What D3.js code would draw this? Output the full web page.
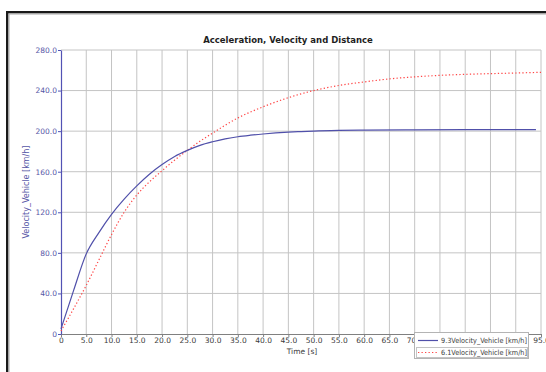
<!DOCTYPE html>
<html>
<head>
<meta charset="utf-8">
<script src="https://cdn.jsdelivr.net/npm/d3@7"></script>
<style>
  body { margin: 0; background: #fff; }
  svg { display: block; font-family: "DejaVu Sans", Verdana, sans-serif; }
</style>
</head>
<body>
<svg width="546" height="372"></svg>
<script>
const title = 'Acceleration, Velocity and Distance';
const yLabel = 'Velocity_Vehicle [km/h]';
const xLabel = 'Time [s]';
const seriesNames = ['9.3Velocity_Vehicle [km/h]', '6.1Velocity_Vehicle [km/h]'];

const xTicks = d3.range(0, 96, 5);
const yTicks = d3.range(0, 281, 40);

// 9.3 run (solid blue)
const blueTime = [0, 2.5, 5, 7.5, 10, 12.5, 15, 17.5, 20, 22.5, 25, 27.5, 30, 32.5, 35, 37.5, 40, 42.5, 45, 47.5, 50, 55, 60, 70, 80, 94];
const blueVel = [5, 43, 79, 100, 118, 133, 146, 157.5, 167, 175, 181, 186, 189.5, 192.3, 194.5, 196, 197.2, 198.2, 199, 199.6, 200.1, 200.7, 201, 201.3, 201.5, 201.5];

// 6.1 run (dotted red)
const redTime = [0, 2.5, 5, 7.5, 10, 12.5, 15, 17.5, 20, 22.5, 25, 27.5, 30, 35, 40, 45, 50, 55, 60, 65, 70, 75, 80, 85, 90, 95];
const redVel = [3, 25, 48, 73, 98, 120, 137, 150, 161, 171.5, 181, 190, 198, 213, 224, 233, 240, 245, 248.5, 251.5, 253.5, 255, 256, 256.7, 257.3, 258];

const svg = d3.select('svg');

const x = d3.scaleLinear().domain([0, 95]).range([61, 541]);
const y = d3.scaleLinear().domain([0, 280]).range([334, 50]);

// legend box area (tick labels underneath it are hidden, as in the source)
const legendBox = { x: 414.5, y: 332.5, w: 114, h: 26 };

// frame
svg.append('rect')
  .attr('x', 7.2).attr('y', 12.2)
  .attr('width', 560).attr('height', 400)
  .attr('fill', 'none').attr('stroke', '#1a1a1a').attr('stroke-width', 2.4);
svg.append('rect')
  .attr('x', 9).attr('y', 14)
  .attr('width', 560).attr('height', 400)
  .attr('fill', 'none').attr('stroke', '#a8a8a8').attr('stroke-width', 1);

// grid
svg.append('g')
  .selectAll('line')
  .data(xTicks.filter(d => d > 0))
  .join('line')
    .attr('x1', d => x(d)).attr('x2', d => x(d))
    .attr('y1', y(280)).attr('y2', y(0))
    .attr('stroke', '#c4c4c4').attr('stroke-width', 1);
svg.append('g')
  .selectAll('line')
  .data(yTicks.filter(d => d > 0))
  .join('line')
    .attr('x1', x(0)).attr('x2', x(95))
    .attr('y1', d => y(d)).attr('y2', d => y(d))
    .attr('stroke', '#c4c4c4').attr('stroke-width', 1);

// axes
const fmt = d => d === 0 ? '0' : d.toFixed(1);

const xAxis = svg.append('g')
  .attr('transform', `translate(0,${y(0)})`)
  .call(d3.axisBottom(x).tickValues(xTicks).tickFormat(fmt).tickSizeInner(3).tickSizeOuter(0).tickPadding(1));
xAxis.select('.domain').attr('stroke', '#808080');
xAxis.selectAll('.tick line').attr('stroke', '#808080');
xAxis.selectAll('.tick text')
  .attr('fill', '#3a3a3a')
  .style('font-size', '7.5px')
  .style('font-family', '"DejaVu Sans", sans-serif');
// labels fully covered by the legend are not drawn
xAxis.selectAll('.tick')
  .filter(d => x(d) - 8 > legendBox.x && x(d) + 8 < legendBox.x + legendBox.w)
  .select('text').remove();

const yAxis = svg.append('g')
  .attr('transform', `translate(${x(0)},0)`)
  .call(d3.axisLeft(y).tickValues(yTicks).tickFormat(fmt).tickSizeInner(3).tickSizeOuter(0).tickPadding(1));
yAxis.select('.domain').attr('stroke', '#5252b4').attr('stroke-width', 1.2);
yAxis.selectAll('.tick line').attr('stroke', '#5252b4');
yAxis.selectAll('.tick text')
  .attr('fill', '#5656a6')
  .style('font-size', '7.5px')
  .style('font-family', '"DejaVu Sans", sans-serif');

// series
const blueLine = d3.line()
  .x((d, i) => x(blueTime[i]))
  .y(d => y(d))
  .curve(d3.curveMonotoneX);
const redLine = d3.line()
  .x((d, i) => x(redTime[i]))
  .y(d => y(d))
  .curve(d3.curveMonotoneX);

svg.append('path')
  .attr('d', redLine(redVel))
  .attr('fill', 'none')
  .attr('stroke', '#ff4646')
  .attr('stroke-width', 1.2)
  .attr('stroke-dasharray', '1.3,2.2');

svg.append('path')
  .attr('d', blueLine(blueVel))
  .attr('fill', 'none')
  .attr('stroke', '#5050aa')
  .attr('stroke-width', 1.2);

// titles
const t = svg.append('text')
  .attr('x', 288).attr('y', 43)
  .attr('text-anchor', 'middle')
  .attr('fill', '#1e1e1e')
  .style('font-weight', 'bold')
  .style('font-size', '10px')
  .text(title);
const tw = t.node().getComputedTextLength();
t.style('font-size', (10 * 170 / tw) + 'px');

svg.append('text')
  .attr('transform', 'translate(29,192) rotate(-90)')
  .attr('text-anchor', 'middle')
  .attr('fill', '#5656a6')
  .style('font-size', '8px')
  .text(yLabel);

svg.append('text')
  .attr('x', 302).attr('y', 353.5)
  .attr('text-anchor', 'middle')
  .attr('fill', '#3a3a3a')
  .style('font-size', '7.5px')
  .text(xLabel);

// legend
const lg = svg.append('g');
lg.append('rect')
  .attr('x', legendBox.x).attr('y', legendBox.y)
  .attr('width', legendBox.w).attr('height', legendBox.h)
  .attr('fill', '#fff').attr('stroke', '#b4b4b4');
lg.append('rect')
  .attr('x', 416.5).attr('y', 347.5)
  .attr('width', 111).attr('height', 10)
  .attr('fill', 'none').attr('stroke', '#888').attr('stroke-dasharray', '1,1');

const legendStyles = [
  { color: '#5050aa', dash: null },
  { color: '#ff4646', dash: '1.3,2.2' }
];
seriesNames.forEach((name, i) => {
  const yy = 340.5 + i * 12;
  lg.append('line')
    .attr('x1', 418).attr('x2', 438)
    .attr('y1', yy).attr('y2', yy)
    .attr('stroke', legendStyles[i].color)
    .attr('stroke-width', 1.2)
    .attr('stroke-dasharray', legendStyles[i].dash);
  const lt = lg.append('text')
    .attr('x', 441).attr('y', yy + 2.7)
    .attr('fill', '#3a3a3a')
    .style('font-size', '7.2px')
    .text(name);
  const w = lt.node().getComputedTextLength();
  if (w > 86) lt.attr('textLength', 86).attr('lengthAdjust', 'spacingAndGlyphs');
});
</script>
</body>
</html>
